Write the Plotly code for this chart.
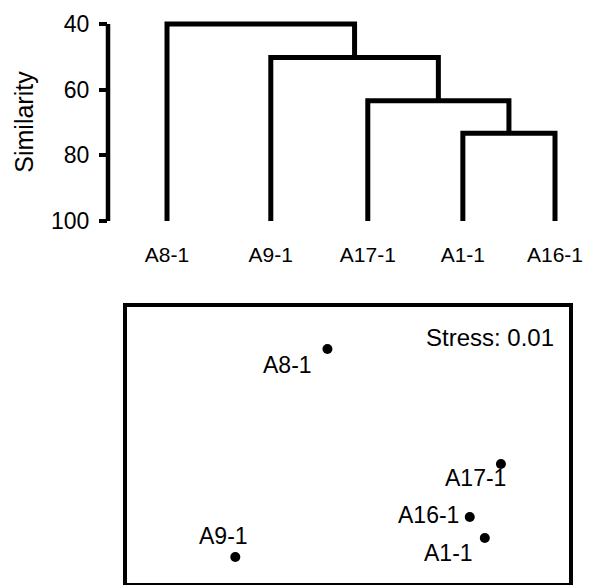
import plotly.graph_objects as go

# ---------------- data ----------------
leaf_names = ["A8-1", "A9-1", "A17-1", "A1-1", "A16-1"]
leaf_pos = [1.0, 2.07, 3.07, 4.05, 5.0]          # leaf order positions on the dendrogram axis
leaf_level = 100                                   # leaves start at 100 % similarity
# merges: (node a, node b, similarity level); new nodes numbered from 5
merges = [(3, 4, 73.3), (2, 5, 63.4), (1, 6, 50.2), (0, 7, 40.0)]
sim_ticks = [40, 60, 80, 100]

nmds_names = ["A8-1", "A9-1", "A17-1", "A16-1", "A1-1"]
nmds_x = [-0.093, -0.510, 0.692, 0.551, 0.619]
nmds_y = [0.696, -0.812, -0.138, -0.522, -0.674]
stress_text = "Stress: 0.01"

# ---------------- styles ----------------
FONT = "Liberation Sans, Arial, Helvetica, sans-serif"
label_offsets = {"A8-1": (-40, -16), "A9-1": (-12, 21), "A17-1": (-25, -14),
                 "A16-1": (-41, 2), "A1-1": (-36, -15)}

W, H = 589, 585
def px_x(p):
    return p / W
def px_y(p):
    return 1 - p / H

# ---------------- dendrogram ----------------
node_x = list(leaf_pos)
node_h = [leaf_level] * len(leaf_pos)
dx, dy = [], []
for a, b, h in merges:
    dx += [node_x[a], node_x[a], node_x[b], node_x[b], None]
    dy += [node_h[a], h, h, node_h[b], None]
    node_x.append((node_x[a] + node_x[b]) / 2)
    node_h.append(h)

fig = go.Figure()
fig.add_trace(go.Scatter(x=dx, y=dy, mode="lines", xaxis="x", yaxis="y",
                         line=dict(color="black", width=5), hoverinfo="skip",
                         showlegend=False))

# ---------------- NMDS ----------------
fig.add_trace(go.Scatter(x=nmds_x, y=nmds_y, mode="markers", xaxis="x2", yaxis="y2",
                         marker=dict(color="black", size=10), showlegend=False,
                         cliponaxis=False))
for n, x, y in zip(nmds_names, nmds_x, nmds_y):
    xs, ys = label_offsets[n]
    fig.add_annotation(x=x, y=y, xref="x2", yref="y2", text=n, showarrow=False,
                       xshift=xs, yshift=ys, xanchor="center", yanchor="middle",
                       font=dict(family=FONT, size=23, color="black"))
fig.add_annotation(x=0.9705, y=0.891, xref="x2 domain", yref="y2 domain",
                   text=stress_text, showarrow=False, xanchor="right", yanchor="middle",
                   font=dict(family=FONT, size=24, color="black"))

# top axes geometry
top_l, top_r, top_t, top_b = 108, 580, 20, 224
px_per_unit_x = 97.0
x0 = leaf_pos[0] - (167 - top_l) / px_per_unit_x
x1 = leaf_pos[-1] + (top_r - 555) / px_per_unit_x
ppu_y = 197 / 60.0
y_top = 40 - (24 - top_t) / ppu_y
y_bot = 100 + (top_b - 221) / ppu_y

fig.add_shape(type="line", xref="paper", yref="y", x0=px_x(top_l), x1=px_x(top_l),
              y0=min(sim_ticks), y1=max(sim_ticks), line=dict(color="black", width=4.5))

fig.update_layout(
    template="none",
    width=W, height=H,
    margin=dict(l=0, r=0, t=0, b=0, pad=0),
    paper_bgcolor="white", plot_bgcolor="white",
    font=dict(family=FONT, color="black"),
    xaxis=dict(domain=[px_x(top_l), px_x(top_r)], anchor="y", range=[x0, x1],
               tickvals=leaf_pos, ticktext=leaf_names, ticks="", showline=False,
               showgrid=False, zeroline=False, ticklabelstandoff=16, automargin=False,
               tickfont=dict(size=21, family=FONT)),
    yaxis=dict(domain=[px_y(top_b), px_y(top_t)], anchor="x", range=[y_bot, y_top],
               tickvals=sim_ticks, ticks="outside", ticklen=8, tickwidth=4,
               tickcolor="black", showline=False, showgrid=False, zeroline=False,
               ticklabelstandoff=5, tickfont=dict(size=23, family=FONT), automargin=False,
               title=dict(text="Similarity", font=dict(size=25, family=FONT), standoff=10)),
    xaxis2=dict(domain=[px_x(127), px_x(569)], anchor="y2", range=[-1, 1],
                showticklabels=False, ticks="", showgrid=False, zeroline=False,
                automargin=False,
                showline=True, mirror=True, linecolor="black", linewidth=4),
    yaxis2=dict(domain=[px_y(583), px_y(307)], anchor="x2", range=[-1, 1],
                showticklabels=False, ticks="", showgrid=False, zeroline=False,
                automargin=False,
                showline=True, mirror=True, linecolor="black", linewidth=4),
)

fig.write_html("out.html")
